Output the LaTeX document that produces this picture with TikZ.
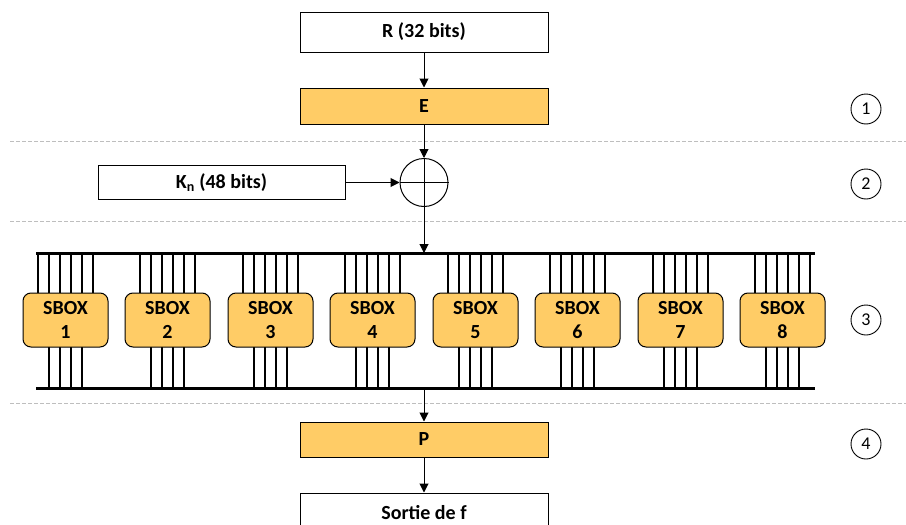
\documentclass[tikz,border=0pt]{standalone}
\usepackage{fontspec}
\setmainfont{Carlito}
\usetikzlibrary{arrows.meta}
\definecolor{boxorange}{RGB}{255,204,102}
\definecolor{sepgray}{RGB}{190,190,190}
\begin{document}
\begin{tikzpicture}[x=1pt,y=-1pt,
  plainbox/.style={draw=black,line width=1pt,fill=white,minimum width=248pt,inner sep=0pt,font=\fontsize{20}{24}\selectfont\bfseries},
  orangebox/.style={plainbox,fill=boxorange},
  sboxnode/.style={draw=black,line width=1pt,fill=boxorange,rounded corners=8pt,minimum width=85pt,minimum height=54pt,inner sep=0pt,align=center,font=\fontsize{20}{24}\selectfont\bfseries},
  stepnum/.style={draw=black,line width=0.9pt,circle,minimum size=30pt,inner sep=0pt,font=\fontsize{18}{20}\selectfont},
  arr/.style={line width=1pt,-{Triangle[length=9pt,width=9pt]}},
  bus/.style={line width=3pt},
  wire/.style={line width=2pt},
  sep/.style={sepgray,line width=0.9pt,dash pattern=on 4pt off 2pt}]
\useasboundingbox (0,0) rectangle (906,525);
% separators
\draw[sep] (10,141) -- (906,141);
\draw[sep] (10,221) -- (906,221);
\draw[sep] (10,403) -- (906,403);
% main boxes
\node[plainbox,minimum height=40pt] (R) at (424,32) {R (32 bits)};
\node[orangebox,minimum height=36pt] (E) at (424,106) {E};
\node[draw=black,line width=1pt,circle,minimum size=48pt,inner sep=0pt] (xor) at (424,182.5) {};
\draw[line width=1pt] (xor.north) -- (xor.south) (xor.west) -- (xor.east);
\node[plainbox,minimum width=247pt,minimum height=34pt] (K) at (221.5,182.5) {K\textsubscript{n} (48 bits)};
\coordinate (bt) at (424,253);
\coordinate (bb) at (424,388);
\node[orangebox,minimum height=35pt] (P) at (424,439.5) {P};
\node[plainbox,minimum height=40pt] (S) at (424,513) {Sortie de f};
% arrows
\draw[arr] (R) -- (E);
\draw[arr] (E) -- (xor);
\draw[arr] (K) -- (xor);
\draw[arr] (xor) -- (bt);
\draw[arr] (bb) -- (P);
\draw[arr] (P) -- (S);
% buses
\coordinate (btl) at (36,253);
\coordinate (btr) at (815,253);
\coordinate (bbl) at (36,388);
\coordinate (bbr) at (815,388);
\draw[bus] (btl) -- (btr);
\draw[bus] (bbl) -- (bbr);
% sboxes
\foreach \i in {1,...,8}{
  \pgfmathsetmacro{\cx}{round(65+(\i-1)*102.43)}
  \foreach \d in {-27,-16,-5,6,17,28}{
    \draw[wire] (\cx+\d,253) -- (\cx+\d,294);
  }
  \foreach \d in {-16,-5,6,17}{
    \draw[wire] (\cx+\d,346) -- (\cx+\d,388);
  }
  \node[sboxnode] (sb\i) at (\cx+0.5,320) {SBOX\\\i};
}
% step numbers
\node[stepnum] (n1) at (866,109) {1};
\node[stepnum] (n2) at (866,184) {2};
\node[stepnum] (n3) at (866,320) {3};
\node[stepnum] (n4) at (866,444) {4};
\end{tikzpicture}
\end{document}
